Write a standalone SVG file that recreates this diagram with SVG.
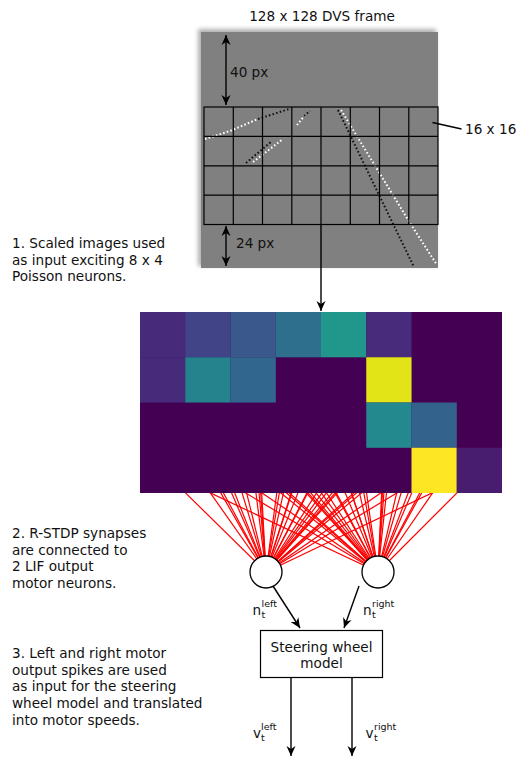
<svg xmlns="http://www.w3.org/2000/svg" width="527" height="768" viewBox="0 0 527 768">
<style>
text{font-family:"DejaVu Sans","Liberation Sans",sans-serif;font-size:13.6px;fill:#111}
.sm{font-size:9.5px}
.ln{stroke:#000;stroke-width:1.4;fill:none}
.grid{stroke:#000;stroke-width:1.2;fill:none}
.syn{stroke:#ff0000;stroke-width:1.2}
.ev-w{stroke:#fff;stroke-width:2;stroke-dasharray:1.6 2.2;fill:none}
.ev-b{stroke:#111;stroke-width:2;stroke-dasharray:1.6 2.2;fill:none}
</style>
<defs>
<marker id="ah" markerWidth="12" markerHeight="10" refX="10" refY="5" orient="auto" markerUnits="userSpaceOnUse">
<path d="M10,5 L0,0.5 L3,5 L0,9.5 Z" fill="#000"/>
</marker>
<marker id="ahs" markerWidth="12" markerHeight="10" refX="10" refY="5" orient="auto-start-reverse" markerUnits="userSpaceOnUse">
<path d="M10,5 L0,0.5 L3,5 L0,9.5 Z" fill="#000"/>
</marker>
<filter id="blur" x="-10%" y="-10%" width="120%" height="120%"><feGaussianBlur stdDeviation="2"/></filter>
</defs>
<rect width="527" height="768" fill="#fff"/>

<g id="frame">
<text x="322" y="21" text-anchor="middle">128 x 128 DVS frame</text>
<rect x="198" y="29" width="238" height="237" fill="#b0b0b0" filter="url(#blur)"/>
<rect x="201" y="32" width="237" height="236" fill="#808080"/>
<g id="events">
<polyline class="ev-w" points="205,139 230,131 258,119"/>
<polyline class="ev-b" points="258,119 289,109"/>
<polyline class="ev-w" points="297,125 305,115"/>
<polyline class="ev-b" points="304,116 310,111"/>
<polyline class="ev-b" points="246,163 272,141"/>
<polyline class="ev-w" points="253,162 283,139"/>
<polyline class="ev-b" points="338,110 380,197 414,267"/>
<polyline class="ev-w" points="341,110 410,223 437,265"/>
</g>
<g id="grid" class="grid">
<rect x="204" y="107" width="234" height="117.5"/>
<path d="M233.3,107V224.5M262.5,107V224.5M291.8,107V224.5M321,107V224.5M350.3,107V224.5M379.5,107V224.5M408.8,107V224.5M204,136.4H438M204,165.8H438M204,195.1H438"/>
</g>
<line class="ln" x1="226" y1="35" x2="226" y2="105" marker-start="url(#ahs)" marker-end="url(#ahs)"/>
<text x="230" y="77">40 px</text>
<line class="ln" x1="226" y1="226" x2="226" y2="266" marker-start="url(#ahs)" marker-end="url(#ahs)"/>
<text x="236" y="248">24 px</text>
<line x1="432.5" y1="122.5" x2="461.5" y2="129" stroke="#000" stroke-width="1.3"/>
<text x="465" y="134">16 x 16</text>
</g>

<g id="connectors">
<line class="ln" x1="321" y1="224.5" x2="321" y2="311" marker-end="url(#ah)"/>
<g id="synapses" class="syn">
<line x1="162.6" y1="334.6" x2="266" y2="572"/><line x1="162.6" y1="334.6" x2="378" y2="572"/>
<line x1="207.9" y1="334.6" x2="266" y2="572"/><line x1="207.9" y1="334.6" x2="378" y2="572"/>
<line x1="253.1" y1="334.6" x2="266" y2="572"/><line x1="253.1" y1="334.6" x2="378" y2="572"/>
<line x1="298.4" y1="334.6" x2="266" y2="572"/><line x1="298.4" y1="334.6" x2="378" y2="572"/>
<line x1="343.6" y1="334.6" x2="266" y2="572"/><line x1="343.6" y1="334.6" x2="378" y2="572"/>
<line x1="388.9" y1="334.6" x2="266" y2="572"/><line x1="388.9" y1="334.6" x2="378" y2="572"/>
<line x1="434.1" y1="334.6" x2="266" y2="572"/><line x1="434.1" y1="334.6" x2="378" y2="572"/>
<line x1="479.4" y1="334.6" x2="266" y2="572"/><line x1="479.4" y1="334.6" x2="378" y2="572"/>
<line x1="162.6" y1="379.9" x2="266" y2="572"/><line x1="162.6" y1="379.9" x2="378" y2="572"/>
<line x1="207.9" y1="379.9" x2="266" y2="572"/><line x1="207.9" y1="379.9" x2="378" y2="572"/>
<line x1="253.1" y1="379.9" x2="266" y2="572"/><line x1="253.1" y1="379.9" x2="378" y2="572"/>
<line x1="298.4" y1="379.9" x2="266" y2="572"/><line x1="298.4" y1="379.9" x2="378" y2="572"/>
<line x1="343.6" y1="379.9" x2="266" y2="572"/><line x1="343.6" y1="379.9" x2="378" y2="572"/>
<line x1="388.9" y1="379.9" x2="266" y2="572"/><line x1="388.9" y1="379.9" x2="378" y2="572"/>
<line x1="434.1" y1="379.9" x2="266" y2="572"/><line x1="434.1" y1="379.9" x2="378" y2="572"/>
<line x1="479.4" y1="379.9" x2="266" y2="572"/><line x1="479.4" y1="379.9" x2="378" y2="572"/>
<line x1="162.6" y1="425.1" x2="266" y2="572"/><line x1="162.6" y1="425.1" x2="378" y2="572"/>
<line x1="207.9" y1="425.1" x2="266" y2="572"/><line x1="207.9" y1="425.1" x2="378" y2="572"/>
<line x1="253.1" y1="425.1" x2="266" y2="572"/><line x1="253.1" y1="425.1" x2="378" y2="572"/>
<line x1="298.4" y1="425.1" x2="266" y2="572"/><line x1="298.4" y1="425.1" x2="378" y2="572"/>
<line x1="343.6" y1="425.1" x2="266" y2="572"/><line x1="343.6" y1="425.1" x2="378" y2="572"/>
<line x1="388.9" y1="425.1" x2="266" y2="572"/><line x1="388.9" y1="425.1" x2="378" y2="572"/>
<line x1="434.1" y1="425.1" x2="266" y2="572"/><line x1="434.1" y1="425.1" x2="378" y2="572"/>
<line x1="479.4" y1="425.1" x2="266" y2="572"/><line x1="479.4" y1="425.1" x2="378" y2="572"/>
<line x1="162.6" y1="470.4" x2="266" y2="572"/><line x1="162.6" y1="470.4" x2="378" y2="572"/>
<line x1="207.9" y1="470.4" x2="266" y2="572"/><line x1="207.9" y1="470.4" x2="378" y2="572"/>
<line x1="253.1" y1="470.4" x2="266" y2="572"/><line x1="253.1" y1="470.4" x2="378" y2="572"/>
<line x1="298.4" y1="470.4" x2="266" y2="572"/><line x1="298.4" y1="470.4" x2="378" y2="572"/>
<line x1="343.6" y1="470.4" x2="266" y2="572"/><line x1="343.6" y1="470.4" x2="378" y2="572"/>
<line x1="388.9" y1="470.4" x2="266" y2="572"/><line x1="388.9" y1="470.4" x2="378" y2="572"/>
<line x1="434.1" y1="470.4" x2="266" y2="572"/><line x1="434.1" y1="470.4" x2="378" y2="572"/>
<line x1="479.4" y1="470.4" x2="266" y2="572"/><line x1="479.4" y1="470.4" x2="378" y2="572"/>
</g>
<line class="ln" x1="273" y1="586" x2="300" y2="628" marker-end="url(#ah)"/>
<line class="ln" x1="359" y1="586" x2="344" y2="628" marker-end="url(#ah)"/>
<line class="ln" x1="291" y1="678" x2="291" y2="756" marker-end="url(#ah)"/>
<line class="ln" x1="352" y1="678" x2="352" y2="756" marker-end="url(#ah)"/>
</g>

<g id="heatmap">
<rect x="140" y="312" width="362" height="181" fill="#440154"/>
<rect x="140" y="312" width="45.3" height="45.3" fill="#472a79"/>
<rect x="185.25" y="312" width="45.3" height="45.3" fill="#414487"/>
<rect x="230.5" y="312" width="45.3" height="45.3" fill="#3b588c"/>
<rect x="275.75" y="312" width="45.3" height="45.3" fill="#2e6f8e"/>
<rect x="321" y="312" width="45.3" height="45.3" fill="#21968b"/>
<rect x="366.25" y="312" width="45.3" height="45.3" fill="#482b7a"/>
<rect x="140" y="357.25" width="45.3" height="45.3" fill="#472a79"/>
<rect x="185.25" y="357.25" width="45.3" height="45.3" fill="#25838e"/>
<rect x="230.5" y="357.25" width="45.3" height="45.3" fill="#31668e"/>
<rect x="366.25" y="357.25" width="45.3" height="45.3" fill="#e2e418"/>
<rect x="366.25" y="402.5" width="45.3" height="45.3" fill="#23898e"/>
<rect x="411.5" y="402.5" width="45.3" height="45.3" fill="#33638d"/>
<rect x="411.5" y="447.75" width="45.3" height="45.25" fill="#fde725"/>
<rect x="456.75" y="447.75" width="45.25" height="45.25" fill="#481d6f"/>
</g>

<g id="neuron-left"><circle cx="266" cy="572" r="16" fill="#fff" stroke="#000" stroke-width="1.3"/></g>
<g id="neuron-right"><circle cx="378" cy="572" r="16" fill="#fff" stroke="#000" stroke-width="1.3"/></g>

<g id="labels-n">
<text x="252.5" y="615">n</text><text class="sm" x="261.5" y="607">left</text><text class="sm" x="261.5" y="618">t</text>
<text x="363" y="615">n</text><text class="sm" x="372" y="607">right</text><text class="sm" x="372" y="618">t</text>
</g>

<g id="steering">
<rect x="260.5" y="630.5" width="122" height="47" fill="#fff" stroke="#000" stroke-width="1.2"/>
<text x="321.5" y="651.5" text-anchor="middle">Steering wheel</text>
<text x="321.5" y="667.5" text-anchor="middle">model</text>
</g>

<g id="labels-v">
<text x="253" y="738">v</text><text class="sm" x="261" y="730">left</text><text class="sm" x="261" y="741">t</text>
<text x="365.5" y="738">v</text><text class="sm" x="374" y="730">right</text><text class="sm" x="374" y="741">t</text>
</g>

<g id="notes">
<text x="12" y="248">1. Scaled images used</text>
<text x="12" y="264.5">as input exciting 8 x 4</text>
<text x="12" y="281">Poisson neurons.</text>
<text x="12" y="538">2. R-STDP synapses</text>
<text x="12" y="554.7">are connected to</text>
<text x="12" y="571.4">2 LIF output</text>
<text x="12" y="588">motor neurons.</text>
<text x="12" y="658">3. Left and right motor</text>
<text x="12" y="674.7">output spikes are used</text>
<text x="12" y="691.4">as input for the steering</text>
<text x="12" y="708">wheel model and translated</text>
<text x="12" y="724.7">into motor speeds.</text>
</g>
</svg>
